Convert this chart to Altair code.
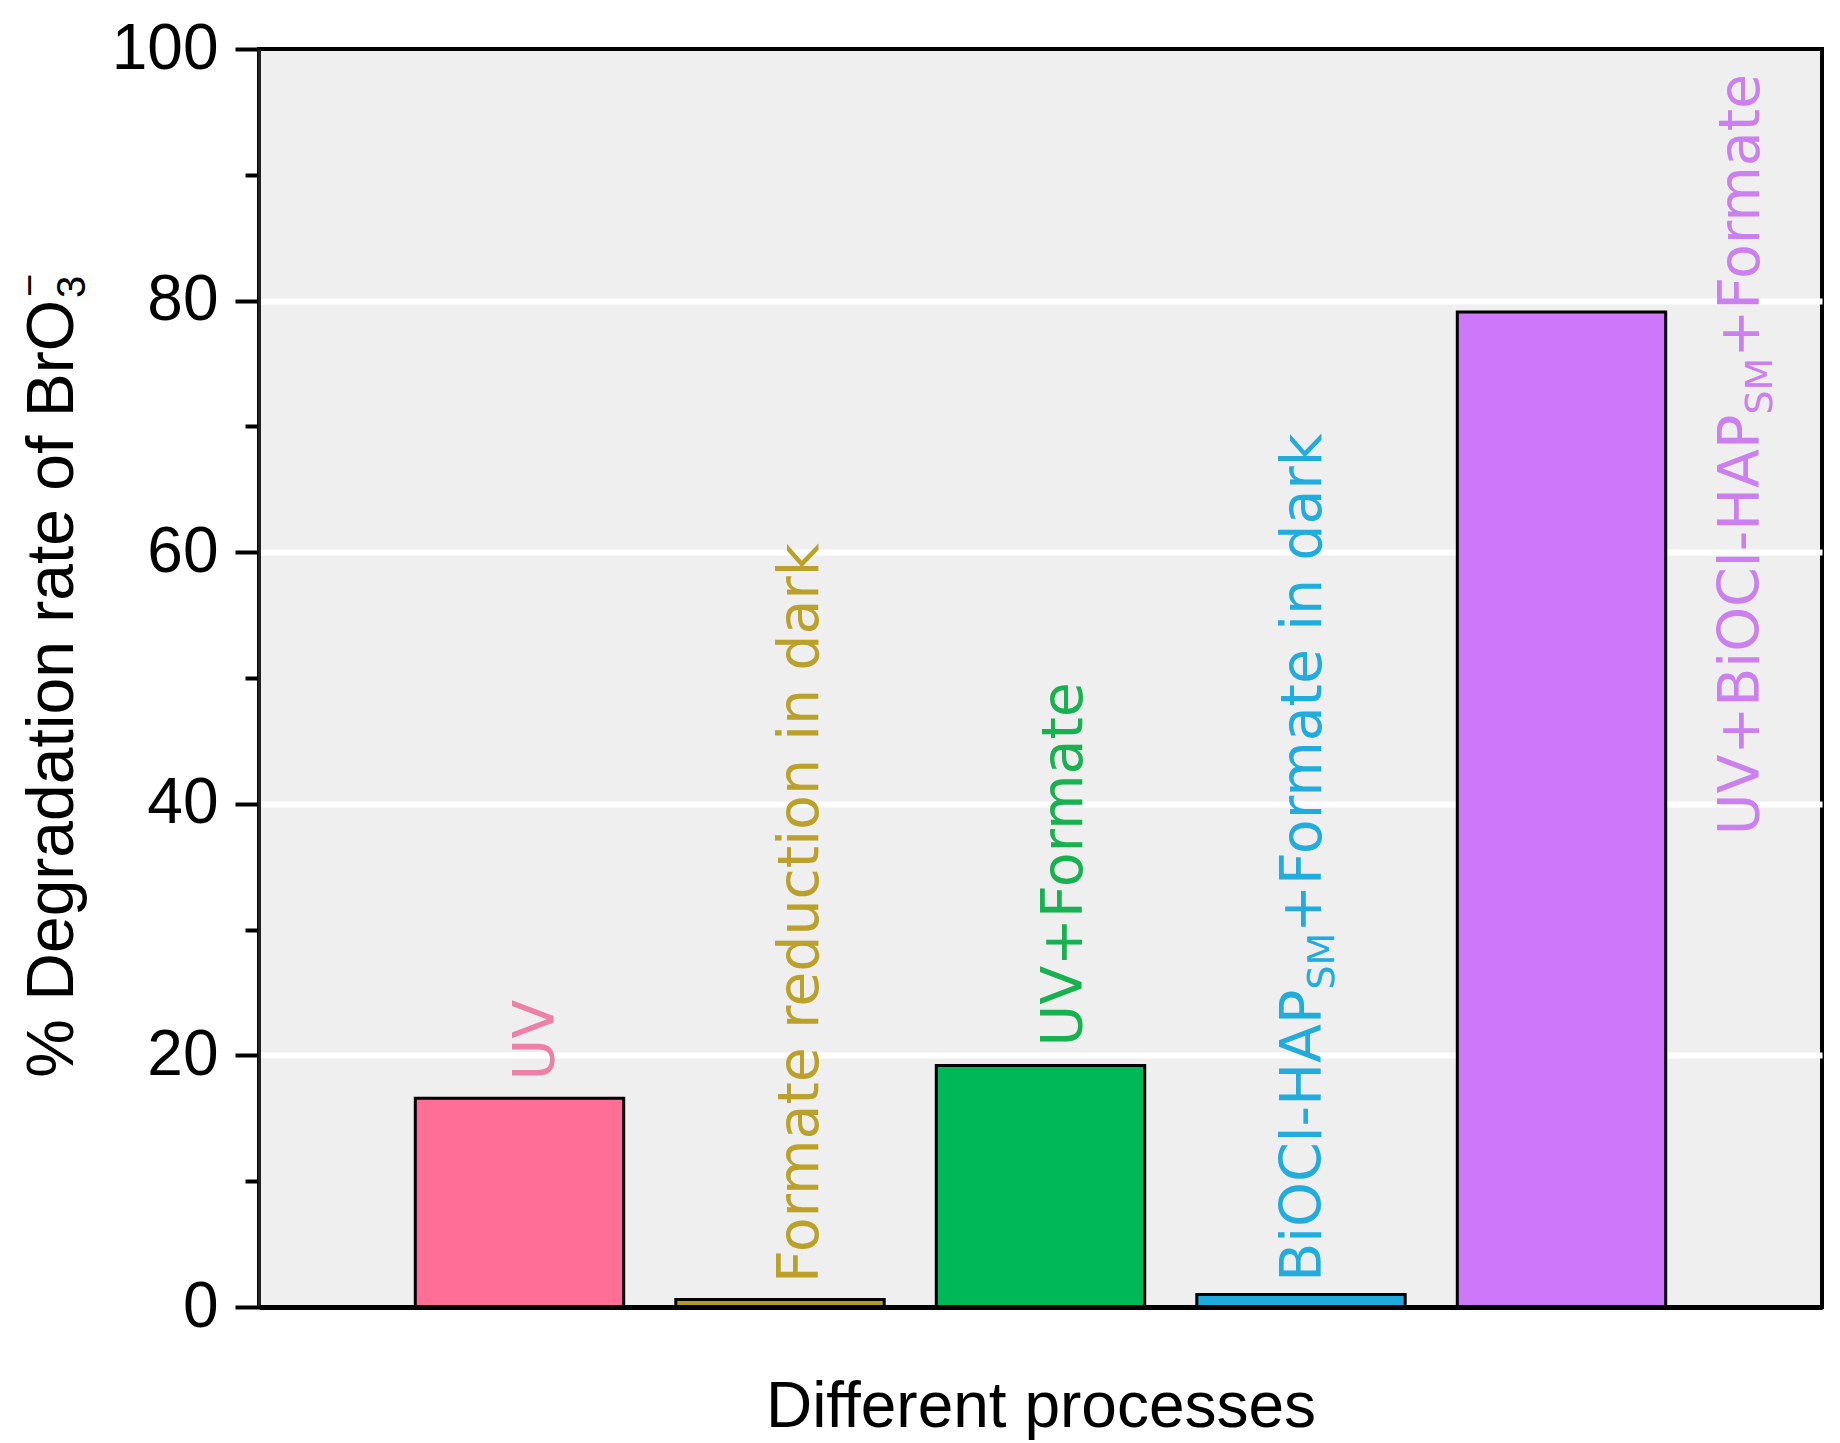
import altair as alt
import pandas as pd

# ---------------- data ----------------
categories = [
    "UV",
    "Formate reduction in dark",
    "UV+Formate",
    "BiOCl-HAPSM+Formate in dark",
    "UV+BiOCl-HAPSM+Formate",
]
positions = [1, 2, 3, 4, 5]
values = [16.6, 0.6, 19.2, 1.0, 79.1]
bar_colors = ["#FF6E96", "#B39B22", "#00B956", "#1FA9DC", "#CD78FA"]
label_colors = ["#EE7FA6", "#BBA12A", "#17B14F", "#22ACDD", "#CC80F0"]
# bar label pieces: (text, is_subscript)
label_segments = [
    [("UV", False)],
    [("Formate reduction in dark", False)],
    [("UV+Formate", False)],
    [("BiOCl-HAP", False), ("SM", True), ("+Formate in dark", False)],
    [("UV+BiOCl-HAP", False), ("SM", True), ("+Formate", False)],
]
# label anchors in data units (x position, y where text starts)
label_x = [1.052, 2.065, 3.079, 3.996, 5.677]
label_y = [18.0, 1.9, 20.7, 2.0, 37.5]
y_ticks = [0, 10, 20, 30, 40, 50, 60, 70, 80, 90, 100]

# ---------------- style ----------------
W, H = 1563, 1258
LABEL_FONT = "DejaVu Sans"
LABEL_SIZE = 57
SUB_SIZE = 38
AXIS_FONT = "Liberation Sans"

# DejaVu Sans advance widths (em) for text layout of label pieces
DJV = {
    " ": .318, "+": .838, "-": .361, "A": .684, "B": .686, "C": .698, "F": .575,
    "H": .752, "M": .863, "O": .787, "P": .603, "S": .635, "U": .732, "V": .684,
    "a": .613, "c": .550, "d": .635, "e": .615, "i": .278, "k": .579, "l": .278,
    "m": .974, "n": .634, "o": .612, "r": .411, "t": .392, "u": .634,
}


def text_width(s, size):
    return sum(DJV.get(ch, 0.6) for ch in s) * size


df = pd.DataFrame({
    "category": categories,
    "pos": positions,
    "value": values,
    "lx": label_x,
    "ly": label_y,
})

xscale = alt.Scale(domain=[0, 6], nice=False, zero=False)
yscale = alt.Scale(domain=[0, 100], nice=False)
color_scale = alt.Scale(domain=categories, range=bar_colors)

bars = alt.Chart(df).transform_calculate(
    x0="datum.pos - 0.4", x1="datum.pos + 0.4"
).mark_bar(stroke="black", strokeWidth=3).encode(
    x=alt.X("x0:Q", scale=xscale, axis=alt.Axis(
        title="Different processes", labels=False, ticks=False, grid=False,
        domainColor="black", domainWidth=5, titleFont=AXIS_FONT,
        titleFontSize=64, titleFontWeight="normal", titleColor="black",
        titlePadding=68, zindex=2)),
    x2="x1:Q",
    y=alt.Y("value:Q", scale=yscale, axis=alt.Axis(
        title=None, values=y_ticks,
        labelExpr="datum.value % 20 === 0 ? datum.label : ''",
        tickSize={"condition": {"test": "datum.value % 20 === 0", "value": 24}, "value": 14},
        tickWidth=4, tickColor="black",
        grid=True, gridColor="white", gridWidth=6,
        gridOpacity={"condition": {"test": "datum.value > 0 && datum.value < 100 && datum.value % 20 === 0", "value": 1}, "value": 0},
        domainColor="#222222", domainWidth=3,
        labelFont=AXIS_FONT, labelFontSize=64, labelColor="black",
        labelPadding=17)),
    y2=alt.datum(0),
    color=alt.Color("category:N", scale=color_scale, legend=None),
)

layers = [bars]

# bar labels, built from pieces so the SM subscripts can be drawn smaller
for i, segs in enumerate(label_segments):
    offset = 0.0
    for text, is_sub in segs:
        size = SUB_SIZE if is_sub else LABEL_SIZE
        dy = 34 if is_sub else 21
        piece = alt.Chart(df).transform_filter(
            alt.datum.category == categories[i]
        ).mark_text(
            text=text, angle=270, align="left", baseline="alphabetic",
            font=LABEL_FONT, fontSize=size, color=label_colors[i],
            dx=offset, dy=dy,
        ).encode(
            x=alt.X("lx:Q", scale=xscale),
            y=alt.Y("ly:Q", scale=yscale),
        )
        layers.append(piece)
        offset += text_width(text, size)

# y axis title: "% Degradation rate of BrO3-" with stacked sub/superscript
one = pd.DataFrame({"k": [0]})
ytitle_x = -186
ytitle_y = 251
ytitle_main = alt.Chart(one).mark_text(
    text="% Degradation rate of BrO", angle=270, align="right",
    baseline="alphabetic", font=AXIS_FONT, fontSize=66, color="black",
).encode(x=alt.value(ytitle_x), y=alt.value(ytitle_y))
ytitle_sub = alt.Chart(one).mark_text(
    text="3", angle=270, align="left", baseline="alphabetic",
    font=AXIS_FONT, fontSize=40, color="black", dx=2, dy=12,
).encode(x=alt.value(ytitle_x), y=alt.value(ytitle_y))
ytitle_sup = alt.Chart(one).mark_text(
    text="\u2212", angle=270, align="left", baseline="alphabetic",
    font=AXIS_FONT, fontSize=40, color="black", dx=3, dy=-30,
).encode(x=alt.value(ytitle_x), y=alt.value(ytitle_y))
layers += [ytitle_main, ytitle_sub, ytitle_sup]

chart = alt.layer(*layers).properties(
    width=W, height=H,
    autosize=alt.AutoSizeParams(type="none"),
    padding={"left": 251, "top": 41, "right": 10, "bottom": 134},
    background="white",
).configure_view(
    fill="#EFEFEF", stroke="black", strokeWidth=4
)

chart.save("out.html", embed_options={"renderer": "svg", "actions": False})
